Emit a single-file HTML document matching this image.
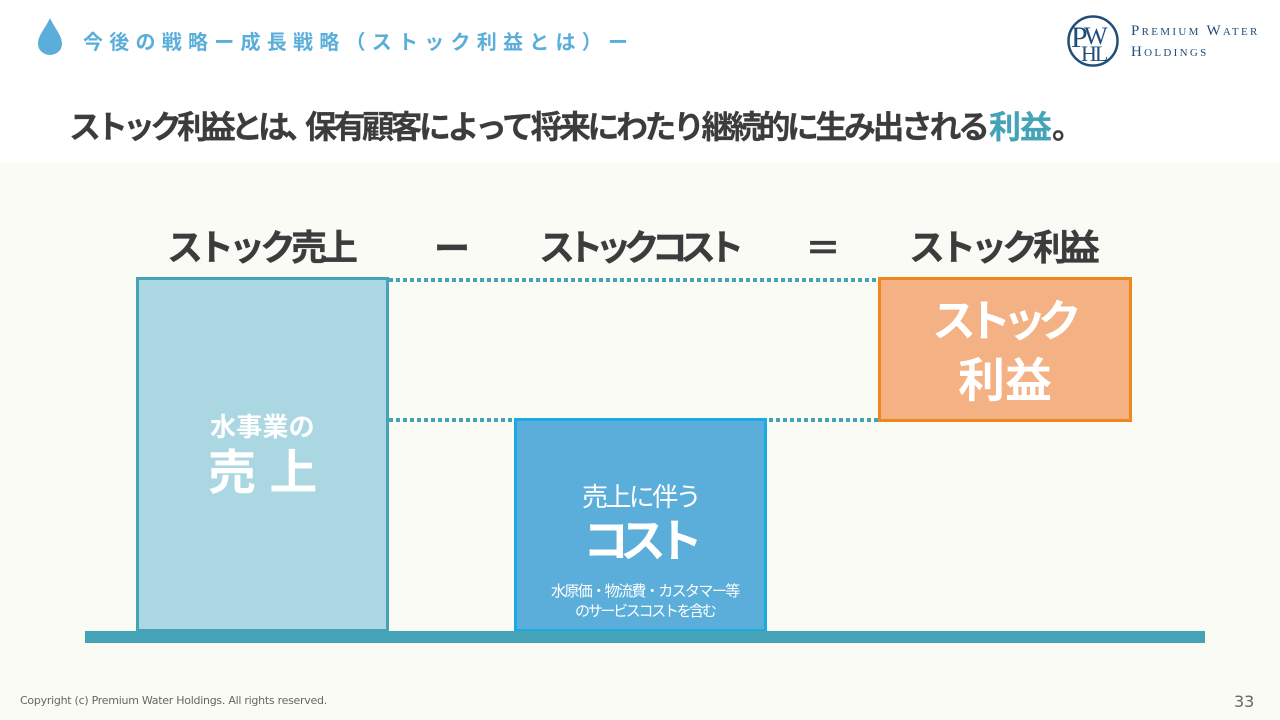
<!DOCTYPE html>
<html lang="ja"><head><meta charset="utf-8"><style>
html,body{margin:0;padding:0}
body{width:1280px;height:720px;position:relative;overflow:hidden;background:#fff;font-family:"Liberation Sans","Noto Sans CJK JP",sans-serif}
.t{position:absolute;white-space:nowrap;line-height:1;font-weight:700}
.c{text-align:center}
.b{position:absolute;box-sizing:border-box;border-style:solid;border-width:3px}
.h{color:#3c3c3c;font-size:36px;letter-spacing:-5px;-webkit-text-stroke:.3px #3c3c3c}
.m{color:#3c3c3c;font-size:32px;-webkit-text-stroke:.2px #3c3c3c}
.w{color:#fff}
</style></head><body>
<div style="position:absolute;left:0;top:163px;width:1280px;height:557px;background:#fbfbf6"></div>
<svg style="position:absolute;left:0;top:0" width="1280" height="720">
<path d="M50 18C45 29 38 35 38 44a12 11 0 0 0 24 0C62 35 55 29 50 18Z" fill="#5aaed9"/>
<g stroke="#45a3b8" stroke-width="4" stroke-dasharray="4 3">
<line x1="389" y1="280" x2="878" y2="280"/>
<line x1="389" y1="420" x2="514" y2="420"/>
<line x1="769" y1="420" x2="878" y2="420"/>
</g>
<circle cx="1093" cy="41" r="24.5" fill="none" stroke="#1f4e79" stroke-width="2.5"/>
<text x="1071" y="47" font-family="Liberation Serif" font-size="30" fill="#1f4e79">P</text>
<text x="1084" y="44" font-family="Liberation Serif" font-size="25" fill="#1f4e79" letter-spacing="-4">W</text>
<text x="1081" y="61" font-family="Liberation Serif" font-size="22" fill="#1f4e79" letter-spacing="-2">HL</text>
</svg>
<div class="t" style="left:83px;top:33px;font-size:20px;letter-spacing:6.25px;color:#5aaed9">今後の戦略ー成長戦略（ストック利益とは）ー</div>
<div style="position:absolute;left:1131px;top:21px;font:15px/21px 'Liberation Serif',serif;font-variant:small-caps;letter-spacing:2.3px;color:#1f4e79;white-space:nowrap">Premium Water<br>Holdings</div>
<div class="t m" style="left:69px;top:111px;letter-spacing:-5px">ストック利益とは、</div>
<div class="t m" style="left:305px;top:111px;letter-spacing:-3.5px">保有顧客によって将来にわたり継続的に生み出される</div>
<div class="t m" style="left:989px;top:111px;letter-spacing:-1px;color:#45a3b8;-webkit-text-stroke:.2px #45a3b8">利益</div>
<div class="t m" style="left:1052px;top:111px">。</div>
<div class="t h" style="left:167px;top:230px">ストック売上</div>
<div class="t h" style="left:434px;top:231px">ー</div>
<div class="t h" style="left:539px;top:230px;letter-spacing:-7.8px">ストックコスト</div>
<div class="t h" style="left:805px;top:231px">＝</div>
<div class="t h" style="left:909px;top:230px">ストック利益</div>
<div class="b" style="left:136px;top:277px;width:253px;height:355px;background:#aad7e1;border-color:#45a3b8"></div>
<div class="b" style="left:514px;top:418px;width:253px;height:214px;background:#5aaed9;border-color:#1aa9e0"></div>
<div class="b" style="left:878px;top:277px;width:254px;height:145px;background:#f4b183;border-color:#f0871e"></div>
<div style="position:absolute;left:85px;top:631px;width:1120px;height:12px;background:#45a3b8"></div>
<div class="t w" style="left:210px;top:414px;font-size:26px;letter-spacing:.2px">水事業の</div>
<div class="t w" style="left:208px;top:450px;font-size:48px;white-space:pre">売 上</div>
<div class="t w" style="left:582px;top:484px;font-size:26px;font-weight:400;letter-spacing:-2.6px">売上に伴う</div>
<div class="t w" style="left:583px;top:518px;font-size:46px;letter-spacing:-9px">コスト</div>
<div class="t w" style="left:551px;top:583px;font-size:15px;font-weight:400;letter-spacing:-1.6px;line-height:18px">水原価・物流費・カスタマー等</div>
<div class="t w" style="left:575px;top:603px;font-size:15px;font-weight:400;letter-spacing:-2.3px;line-height:18px">のサービスコストを含む</div>
<div class="t w" style="left:932px;top:300px;font-size:44px;letter-spacing:-8.7px">ストック</div>
<div class="t w c" style="left:878px;width:254px;top:357px;font-size:47px">利益</div>
<div style="position:absolute;left:20px;top:694px;font:11px/14px 'DejaVu Sans',sans-serif;letter-spacing:-.27px;color:#666;white-space:nowrap">Copyright (c) Premium Water Holdings. All rights reserved.</div>
<div style="position:absolute;left:1234px;top:693px;font:16px/18px 'DejaVu Sans',sans-serif;color:#666">33</div>
</body></html>
